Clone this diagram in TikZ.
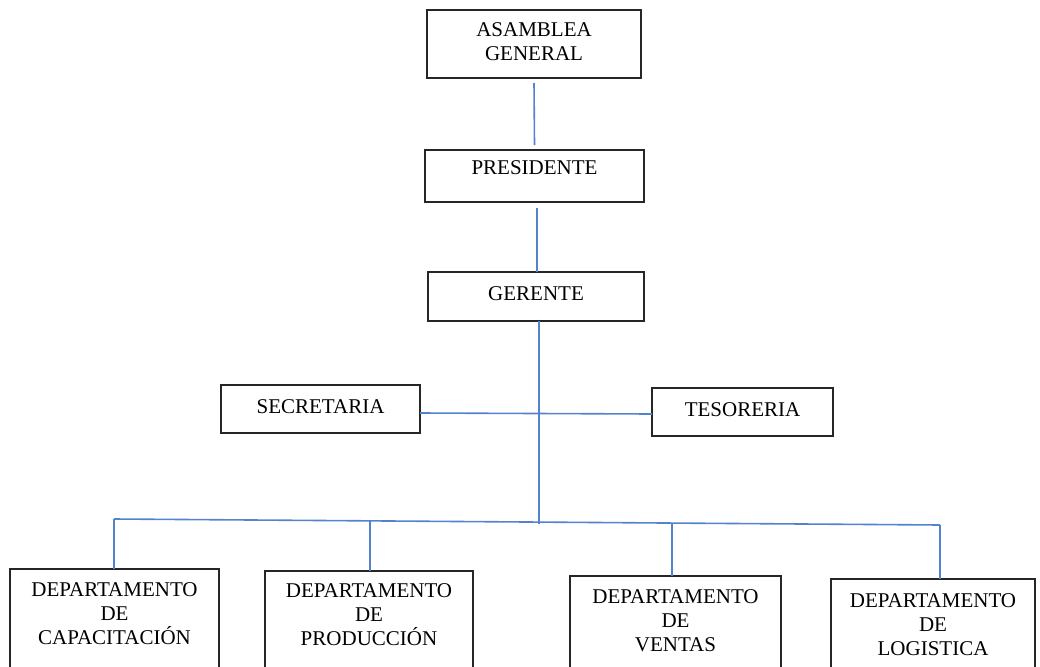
\documentclass[tikz,border=0pt]{standalone}
\usepackage{fontspec}
\setmainfont{Liberation Serif}
\definecolor{linkblue}{RGB}{84,130,205}
\newcommand\cell[4]{%
  \begin{minipage}[t][#2][t]{#1}\centering\rule{0pt}{#3}#4\end{minipage}}
\tikzset{
  box/.style={draw=black!85, line width=1.2pt, inner sep=0pt, outer sep=0pt,
    anchor=north west, font=\fontsize{21pt}{24pt}\selectfont},
  link/.style={draw=linkblue, line width=1.6pt}
}
\begin{document}
\begin{tikzpicture}[x=1pt,y=-1pt]
\clip (0,0) rectangle (1040,666);
% top of the chart
\node[box] (asam) at (427,10) {\cell{214pt}{68pt}{27pt}{ASAMBLEA\\GENERAL}};
\node[box] (pres) at (425,150) {\cell{219pt}{52pt}{24pt}{PRESIDENTE}};
\node[box] (ger) at (428,272) {\cell{216pt}{49pt}{28pt}{GERENTE}};
\node[box] (sec) at (221,385) {\cell{199pt}{48pt}{28pt}{SECRETARIA}};
\node[box] (tes) at (652,388) {\cell{181pt}{48pt}{28pt}{TESORERIA}};
% departments
\node[box] (dcap) at (10,569) {\cell{209pt}{110pt}{27pt}{DEPARTAMENTO\\DE\\CAPACITACIÓN}};
\node[box] (dpro) at (265,571) {\cell{208pt}{110pt}{26pt}{DEPARTAMENTO\\DE\\PRODUCCIÓN}};
\node[box] (dven) at (570,576) {\cell{211pt}{110pt}{27pt}{DEPARTAMENTO\\DE\\VENTAS}};
\node[box] (dlog) at (831,579) {\cell{204pt}{110pt}{28pt}{DEPARTAMENTO\\DE\\LOGISTICA}};
% bus points
\coordinate (busL) at (114,519);
\coordinate (busR) at (940,525);
\coordinate (hub) at (539,524);
\coordinate (tpro) at (370,521);
\coordinate (tven) at (672,523);
% connectors
\draw[link] ([yshift=-5pt]asam.south) -- ([yshift=5pt]pres.north);
\draw[link] ([xshift=2.5pt,yshift=-6pt]pres.south) -- ([xshift=1pt]ger.north);
\draw[link] ([xshift=3pt]ger.south) -- (hub);
\draw[link] ([yshift=-4pt]sec.east) -- ([yshift=-2pt]tes.west);
\draw[link] (busL) -- (busR);
\draw[link] (busL) -- (busL |- dcap.north);
\draw[link] (tpro) -- (tpro |- dpro.north);
\draw[link] (tven) -- (tven |- dven.north);
\draw[link] (busR) -- (busR |- dlog.north);
\end{tikzpicture}
\end{document}
